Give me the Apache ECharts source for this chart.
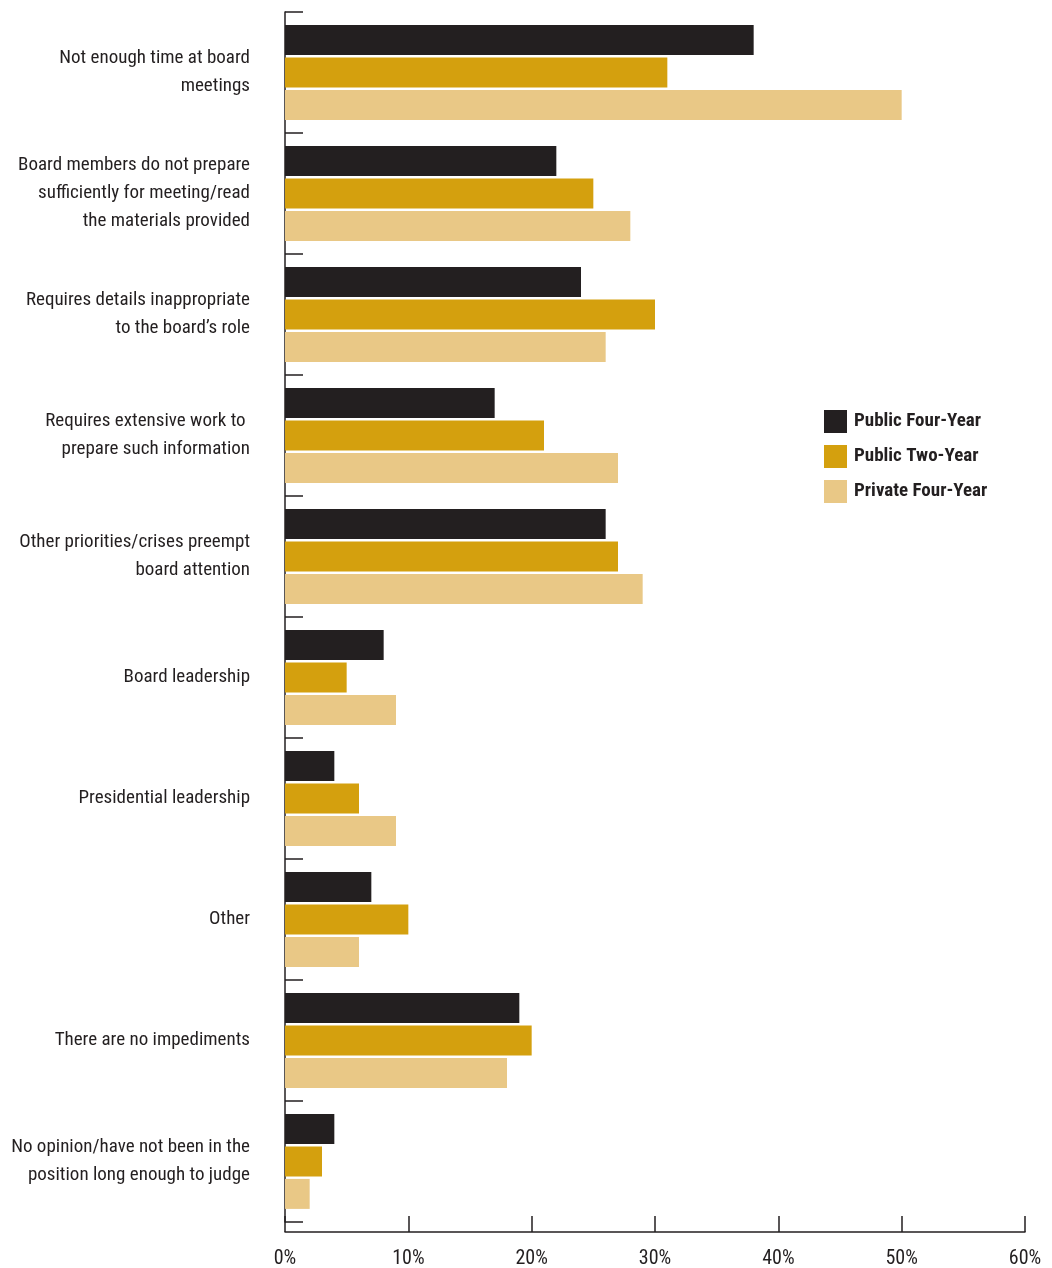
<!DOCTYPE html>
<html>
<head>
<meta charset="utf-8">
<script src="https://cdn.jsdelivr.net/npm/echarts@6/dist/echarts.min.js"></script>
<style>
  html, body { margin: 0; padding: 0; background: #fff; }
  #main { width: 1052px; height: 1268px; }
</style>
</head>
<body>
<div id="main"></div>
<script>
// categories (top to bottom)
const categories = [
  "Not enough time at board\nmeetings",
  "Board members do not prepare\nsufficiently for meeting/read\nthe materials provided",
  "Requires details inappropriate\nto the board\u2019s role",
  "Requires extensive work to \nprepare such information",
  "Other priorities/crises preempt\nboard attention",
  "Board leadership",
  "Presidential leadership",
  "Other",
  "There are no impediments",
  "No opinion/have not been in the\nposition long enough to judge"
];
// percent values
const publicFour = [38, 22, 24, 17, 26, 8, 4, 7, 19, 4];
const publicTwo = [31, 25, 30, 21, 27, 5, 6, 10, 20, 3];
const privateFour = [50, 28, 26, 27, 29, 9, 9, 6, 18, 2];
const xTicks = [0, 10, 20, 30, 40, 50, 60];

const INK = "#231f20";

// pick the narrowest installed sans font (the original uses a condensed face)
function pickFont() {
  const c = document.createElement("canvas").getContext("2d");
  const sample = "Not enough time at board";
  const base = (f) => { c.font = "20px " + f; return c.measureText(sample).width; };
  const mono = base("monospace");
  const candidates = ["Liberation Sans Narrow", "DejaVu Sans Condensed", "Roboto Condensed",
    "Noto Sans Condensed", "Open Sans Condensed", "Roboto", "Liberation Sans", "Lato"];
  let best = null, bestW = Infinity;
  candidates.forEach((f) => {
    const w = base('"' + f + '", monospace');
    if (Math.abs(w - mono) > 0.5 && w < bestW) { best = f; bestW = w; }
  });
  return { family: best || "sans-serif", width: bestW === Infinity ? base("sans-serif") : bestW };
}
const picked = pickFont();
const FONT = '"' + picked.family + '", sans-serif';
// scale so label widths roughly match the reference (~190px for the sample line)
const LABEL_SIZE = Math.max(16, Math.min(21, Math.round(20 * 194 / picked.width)));

const chart = echarts.init(document.getElementById("main"));

const barStyle = (name, data, color) => ({
  name: name,
  type: "bar",
  data: data,
  barWidth: 30,
  barGap: "8%",
  itemStyle: { color: color }
});

chart.setOption({
  animation: false,
  textStyle: { fontFamily: FONT },
  grid: { left: 285, right: 27, top: 12, height: 1210, containLabel: false, outerBoundsMode: "none" },
  legend: {
    orient: "vertical",
    left: 819,
    top: 405,
    itemWidth: 23,
    itemHeight: 23,
    itemGap: 12,
    icon: "rect",
    textStyle: { fontFamily: FONT, fontSize: LABEL_SIZE, fontWeight: "bold", color: INK, padding: [0, 0, 0, 2] },
    data: ["Public Four-Year", "Public Two-Year", "Private Four-Year"]
  },
  xAxis: {
    type: "value",
    min: xTicks[0],
    max: xTicks[xTicks.length - 1],
    interval: 10,
    offset: 10,
    axisLine: { show: true, lineStyle: { color: INK, width: 1.5 } },
    axisTick: { show: true, inside: true, length: 16, lineStyle: { color: INK, width: 1.5 } },
    splitLine: { show: false },
    axisLabel: { formatter: "{value}%", color: INK, fontSize: LABEL_SIZE + 1, margin: 17, fontFamily: FONT }
  },
  yAxis: {
    type: "category",
    inverse: true,
    data: categories,
    axisLine: { show: true, lineStyle: { color: INK, width: 1.5 } },
    axisTick: { show: true, inside: true, length: 18, lineStyle: { color: INK, width: 1.5 } },
    axisLabel: { color: INK, fontSize: LABEL_SIZE, lineHeight: 28, margin: 35, align: "right", fontFamily: FONT }
  },
  series: [
    barStyle("Public Four-Year", publicFour, "#231f20"),
    barStyle("Public Two-Year", publicTwo, "#d4a00e"),
    barStyle("Private Four-Year", privateFour, "#e9c886")
  ]
});
</script>
</body>
</html>
